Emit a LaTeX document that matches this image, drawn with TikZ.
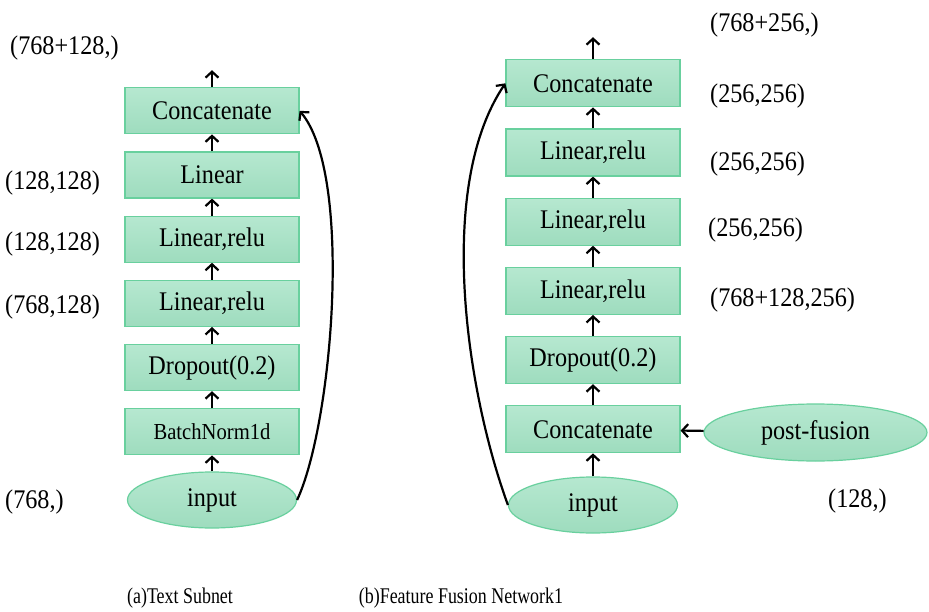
\documentclass[tikz,border=0pt]{standalone}
\usepackage{fontspec}
\setmainfont{Liberation Serif}[FakeStretch=0.9]
\newfontfamily\capfont{Liberation Serif}[FakeStretch=0.8]
\usetikzlibrary{shapes,arrows.meta,positioning}
\definecolor{boxtop}{RGB}{182,232,208}
\definecolor{boxbot}{RGB}{158,220,190}
\definecolor{boxline}{RGB}{105,208,158}

\begin{document}
\begin{tikzpicture}[x=1bp,y=1bp,
  layer/.style={rectangle,draw=boxline,top color=boxtop,bottom color=boxbot,line width=1.2bp,
    minimum width=174bp,minimum height=46bp,inner sep=0pt,font=\fontsize{27}{31}\selectfont},
  src/.style={ellipse,draw=boxline,top color=boxtop,bottom color=boxbot,line width=1.2bp,
    minimum width=169bp,minimum height=56bp,inner sep=0pt,font=\fontsize{27}{31}\selectfont},
  dim/.style={anchor=west,inner sep=0pt,font=\fontsize{27}{31}\selectfont},
  caption/.style={inner sep=0pt,font=\capfont\fontsize{22.5}{26}\selectfont},
  flow/.style={-{Straight Barb[length=6bp,width=13bp,line width=2.2bp]},line width=2.2bp},
  node distance=17bp]
\fill[white] (0,0) rectangle (929,-612);
\useasboundingbox (0,0) rectangle (929,-612);

% (a) text subnet
\node[src] (inA) at (212,-500) {input};
\node[layer,above=16bp of inA,font=\fontsize{23}{27}\selectfont] (bnA) {BatchNorm1d};
\node[layer,above=of bnA] (dropA) {Dropout(0.2)};
\node[layer,above=of dropA] (linA1) {Linear,relu};
\node[layer,above=of linA1] (linA2) {Linear,relu};
\node[layer,above=of linA2] (linA3) {Linear};
\node[layer,above=of linA3] (catA) {Concatenate};
\coordinate[above=17bp of catA.north] (outA);

\draw[flow] (inA) -- (bnA);
\draw[flow] (bnA) -- (dropA);
\draw[flow] (dropA) -- (linA1);
\draw[flow] (linA1) -- (linA2);
\draw[flow] (linA2) -- (linA3);
\draw[flow] (linA3) -- (catA);
\draw[flow] (catA) -- (outA);
\draw[flow] (inA.east) to[out=65,in=-50,looseness=0.55] (catA.east);

\node[dim] (dA1) at (10,-48) {(768+128,)};
\node[dim] (dA2) at (5,-183) {(128,128)};
\node[dim] (dA3) at (5,-244) {(128,128)};
\node[dim] (dA4) at (5,-307) {(768,128)};
\node[dim] (dA5) at (5,-502) {(768,)};

% (b) feature fusion network
\begin{scope}[node distance=21bp,layer/.append style={minimum height=47bp}]
\node[src] (inB) at (593,-505) {input};
\node[layer,above=23bp of inB] (catB1) {Concatenate};
\node[layer,above=of catB1] (dropB) {Dropout(0.2)};
\node[layer,above=of dropB] (linB1) {Linear,relu};
\node[layer,above=of linB1] (linB2) {Linear,relu};
\node[layer,above=of linB2] (linB3) {Linear,relu};
\node[layer,above=of linB3] (catB2) {Concatenate};
\coordinate[above=22bp of catB2.north] (outB);
\end{scope}
\node[src,minimum width=223bp,minimum height=57bp] (post) at (815.5,-432.5) {post-fusion};

\draw[flow] (inB) -- (catB1);
\draw[flow] (post) -- (catB1);
\draw[flow] (catB1) -- (dropB);
\draw[flow] (dropB) -- (linB1);
\draw[flow] (linB1) -- (linB2);
\draw[flow] (linB2) -- (linB3);
\draw[flow] (linB3) -- (catB2);
\draw[flow] (catB2) -- (outB);
\draw[flow] (inB.west) to[out=110,in=-124,looseness=0.75] (catB2.west);

\node[dim] (dB1) at (710,-25) {(768+256,)};
\node[dim] (dB2) at (710,-96) {(256,256)};
\node[dim] (dB3) at (710,-164) {(256,256)};
\node[dim] (dB4) at (708,-230) {(256,256)};
\node[dim] (dB5) at (710,-300) {(768+128,256)};
\node[dim] (dB6) at (828,-501) {(128,)};

\node[caption] (capA) at (180,-598) {(a)Text Subnet};
\node[caption] (capB) at (461,-598) {(b)Feature Fusion Network1};
\end{tikzpicture}
\end{document}
